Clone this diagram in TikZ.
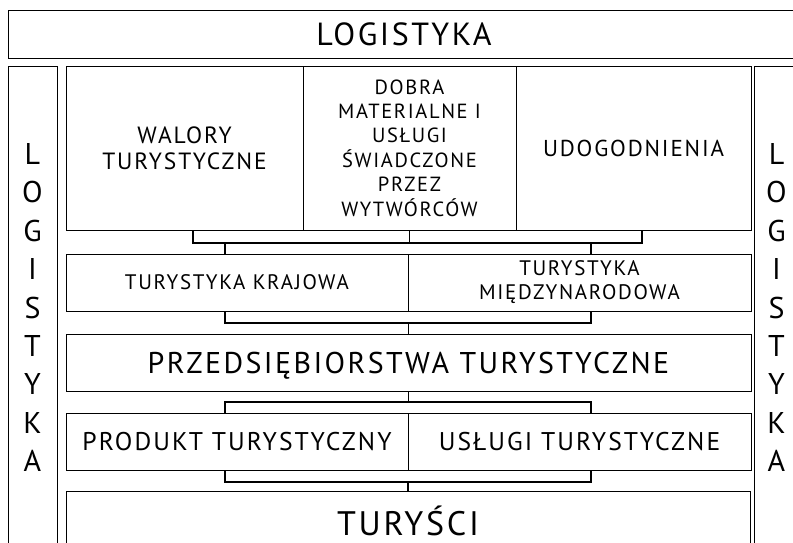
\documentclass[tikz,border=0pt]{standalone}
\usepackage{fontspec}
\setmainfont{PT Sans}[LetterSpace=8]
\begin{document}
\begin{tikzpicture}[x=1pt,y=-1pt,
  box/.style={draw=black, line width=0.8pt, inner sep=0pt, outer sep=0pt, align=center, anchor=north west},
  one/.style={text height=#1, text depth=0pt},
  conn/.style={draw=black, line width=1.3pt},
  fA/.style={font=\fontsize{32}{34}\selectfont},
  fSide/.style={font=\fontsize{30}{38.4}\selectfont},
  fB/.style={font=\fontsize{23.5}{26}\selectfont},
  fB2/.style={font=\fontsize{23}{26}\selectfont},
  fC/.style={font=\fontsize{20.5}{24.4}\selectfont},
  fD/.style={font=\fontsize{21}{24}\selectfont},
  fE/.style={font=\fontsize{30}{32}\selectfont},
  fF/.style={font=\fontsize{25.6}{30}\selectfont},
  fG/.style={font=\fontsize{34}{36}\selectfont}]
\useasboundingbox (0,0) rectangle (793,543);
\clip (0,0) rectangle (793,543);
% frame boxes
\node[box, fA, one=22.4pt, minimum width=792, minimum height=48] (logtop) at (8,10) {LOGISTYKA};
\node[box, fSide, minimum width=49, minimum height=483] (logL) at (8,66) {L\\O\\G\\I\\S\\T\\Y\\K\\A};
\node[box, fSide, minimum width=45, minimum height=483] (logR) at (754,66) {L\\O\\G\\I\\S\\T\\Y\\K\\A};
% top row
\node[box, fB, minimum width=237, minimum height=164] (walory) at (66,66) {WALORY\\TURYSTYCZNE};
\node[box, fC, minimum width=213, minimum height=164] (dobra) at (303,66) {DOBRA\\MATERIALNE I\\USŁUGI\\ŚWIADCZONE\\PRZEZ\\WYTWÓRCÓW};
\node[box, fB2, one=16.1pt, minimum width=235, minimum height=164] (udog) at (516,66) {UDOGODNIENIA};
% second row
\node[box, fD, one=14.7pt, minimum width=342, minimum height=57] (tkraj) at (66,254) {TURYSTYKA KRAJOWA};
\node[box, fD, minimum width=343, minimum height=57] (tmiedz) at (408,254) {TURYSTYKA\\MIĘDZYNARODOWA};
% third row
\node[box, fE, one=21pt, minimum width=685, minimum height=57] (przed) at (66,334) {PRZEDSIĘBIORSTWA TURYSTYCZNE};
% fourth row
\node[box, fF, one=17.9pt, minimum width=342, minimum height=57] (produkt) at (66,413) {PRODUKT TURYSTYCZNY};
\node[box, fF, one=17.9pt, minimum width=343, minimum height=57] (uslugi) at (408,413) {USŁUGI TURYSTYCZNE};
% bottom (box runs to the lower edge of the picture)
\node[box, fG, one=37.3pt, minimum width=684, minimum height=52.5] (turysci) at (66,491) {TURYŚCI};
% junction points
\coordinate (c1) at (193,243);
\coordinate (c3) at (642,243);
\coordinate (c4) at (225,243);
\coordinate (c5) at (591,243);
\coordinate (d1) at (225,323);
\coordinate (d2) at (591,323);
\coordinate (e1) at (225,402);
\coordinate (e2) at (591,402);
\coordinate (f1) at (225,482);
\coordinate (f2) at (591,482);
% connectors
\draw[conn] (walory.south -| c1) -- (c1) -- (c3) -- (udog.south -| c3);
\draw[conn] (dobra.south) -- (dobra.south |- c1);
\draw[conn] (c4) -- (tkraj.north -| c4);
\draw[conn] (c5) -- (tmiedz.north -| c5);
\draw[conn] (tkraj.south -| d1) -- (d1) -- (d2) -- (tmiedz.south -| d2);
\draw[conn] (przed.north) -- (przed.north |- d1);
\draw[conn] (przed.south) -- (przed.south |- e1);
\draw[conn] (produkt.north -| e1) -- (e1) -- (e2) -- (uslugi.north -| e2);
\draw[conn] (produkt.south -| f1) -- (f1) -- (f2) -- (uslugi.south -| f2);
\draw[conn] (turysci.north) -- (turysci.north |- f1);
\end{tikzpicture}
\end{document}
